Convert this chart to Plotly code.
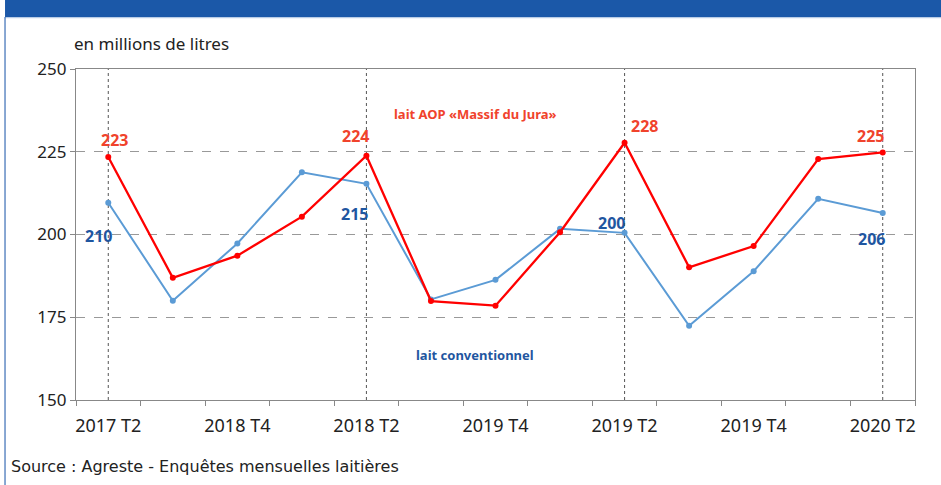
import plotly.graph_objects as go

# ---- data ----
tick_labels = ["2017 T2", "2018 T4", "2018 T2", "2019 T4", "2019 T2", "2019 T4", "2020 T2"]
n_points = 13
aop_values = [223.4, 186.9, 193.6, 205.4, 223.8, 179.9, 178.5, 200.7, 227.7, 190.1, 196.5, 222.8, 224.8]
conv_values = [209.6, 180.0, 197.3, 218.8, 215.3, 180.4, 186.3, 201.7, 200.5, 172.4, 188.9, 210.8, 206.5]
aop_labelled = {0: "223", 4: "224", 8: "228", 12: "225"}
conv_labelled = {0: "210", 4: "215", 8: "200", 12: "206"}
series_names = ["lait AOP «Massif du Jura»", "lait conventionnel"]
unit_text = "en millions de litres"
source_text = "Source : Agreste - Enquêtes mensuelles laitières"

x = list(range(n_points))
tick_pos = x[::2]

RED = "#FF0000"
RED_TXT = "#F0432C"
BLUE = "#5B9BD5"
BLUE_TXT = "#1F56A0"
FONT = "Noto Sans"

fig = go.Figure()
fig.add_trace(go.Scatter(x=x, y=conv_values, mode="lines+markers", name=series_names[1],
                         line=dict(color=BLUE, width=2), marker=dict(size=6, color=BLUE)))
fig.add_trace(go.Scatter(x=x, y=aop_values, mode="lines+markers", name=series_names[0],
                         line=dict(color=RED, width=2.3), marker=dict(size=6, color=RED)))

ann = []
aop_shift = {0: (6, 17), 4: (-11, 20), 8: (20, 17), 12: (-12, 16)}
for i, t in aop_labelled.items():
    dx, dy = aop_shift[i]
    ann.append(dict(x=x[i], y=aop_values[i], text=f"<b>{t}</b>", showarrow=False,
                    xshift=dx, yshift=dy, font=dict(family=FONT, size=16, color=RED_TXT)))
conv_shift = {0: (-10, -33), 4: (-12, -30), 8: (-13, 10), 12: (-11, -26)}
for i, t in conv_labelled.items():
    dx, dy = conv_shift[i]
    ann.append(dict(x=x[i], y=conv_values[i], text=f"<b>{t}</b>", showarrow=False,
                    xshift=dx, yshift=dy, font=dict(family=FONT, size=16, color=BLUE_TXT)))

ann.append(dict(x=5.55, y=236.5, text=f"<b>{series_names[0]}</b>", showarrow=False, xshift=9,
                font=dict(family=FONT, size=13, color=RED_TXT)))
ann.append(dict(x=5.55, y=163.5, text=f"<b>{series_names[1]}</b>", showarrow=False, xshift=9,
                font=dict(family=FONT, size=13, color=BLUE_TXT)))
ann.append(dict(xref="paper", yref="paper", x=0, y=1.035, xanchor="left", yanchor="bottom",
                text=unit_text, showarrow=False, xshift=-4,
                font=dict(family=FONT, size=17, color="#222222")))
ann.append(dict(xref="paper", yref="paper", x=-0.0799, y=-0.165, xanchor="left", yanchor="top",
                text=source_text, showarrow=False,
                font=dict(family="DejaVu Sans", size=16, color="#222222")))

shapes = []
# vertical dashed lines at every "T2" tick
for pos, lab in zip(tick_pos, tick_labels):
    if lab.endswith("T2"):
        shapes.append(dict(type="line", xref="x", yref="paper", x0=pos, x1=pos, y0=0, y1=1,
                           line=dict(color="#555555", width=1, dash="dot"), layer="below"))
# header band and frame
shapes.append(dict(type="rect", xref="paper", yref="paper", x0=-0.0846, x1=1.04, y0=1.157, y1=1.25,
                   fillcolor="#1B58A8", line=dict(width=0)))
shapes.append(dict(type="line", xref="paper", yref="paper", x0=-0.0846, x1=1.04, y0=1.155, y1=1.155,
                   line=dict(color="#A9C1E0", width=1)))
shapes.append(dict(type="line", xref="paper", yref="paper", x0=-0.0846, x1=-0.0846, y0=-0.3, y1=1.157,
                   line=dict(color="#3A6DB5", width=1.2)))

fig.update_layout(
    width=941, height=485,
    margin=dict(l=76, r=26, t=69, b=85),
    paper_bgcolor="white", plot_bgcolor="white",
    showlegend=False,
    annotations=ann, shapes=shapes,
    font=dict(family=FONT, color="#222222"),
)
fig.update_xaxes(range=[-0.5, n_points - 0.5], tickvals=tick_pos, ticktext=tick_labels,
                 ticks="", showgrid=False, zeroline=False, ticklabelstandoff=9,
                 showline=True, linecolor="#888888", linewidth=1.2, mirror=True,
                 tickfont=dict(family=FONT, size=18, color="#222222"),
                 minor=dict(tickvals=[i - 0.5 for i in range(n_points + 1)], ticks="outside",
                            ticklen=5, tickcolor="#888888", showgrid=False))
fig.update_yaxes(range=[150, 250], tickvals=[150, 175, 200, 225, 250],
                 ticks="outside", ticklen=5, tickcolor="#888888",
                 showgrid=True, gridcolor="#999999", griddash="dash", gridwidth=1,
                 zeroline=False, showline=True, linecolor="#888888", linewidth=1.2, mirror=True,
                 tickfont=dict(family=FONT, size=17, color="#222222"))

fig.write_html("out.html", config={"displayModeBar": False},
               post_script="document.body.style.margin='0px';document.body.style.overflow='hidden';")
